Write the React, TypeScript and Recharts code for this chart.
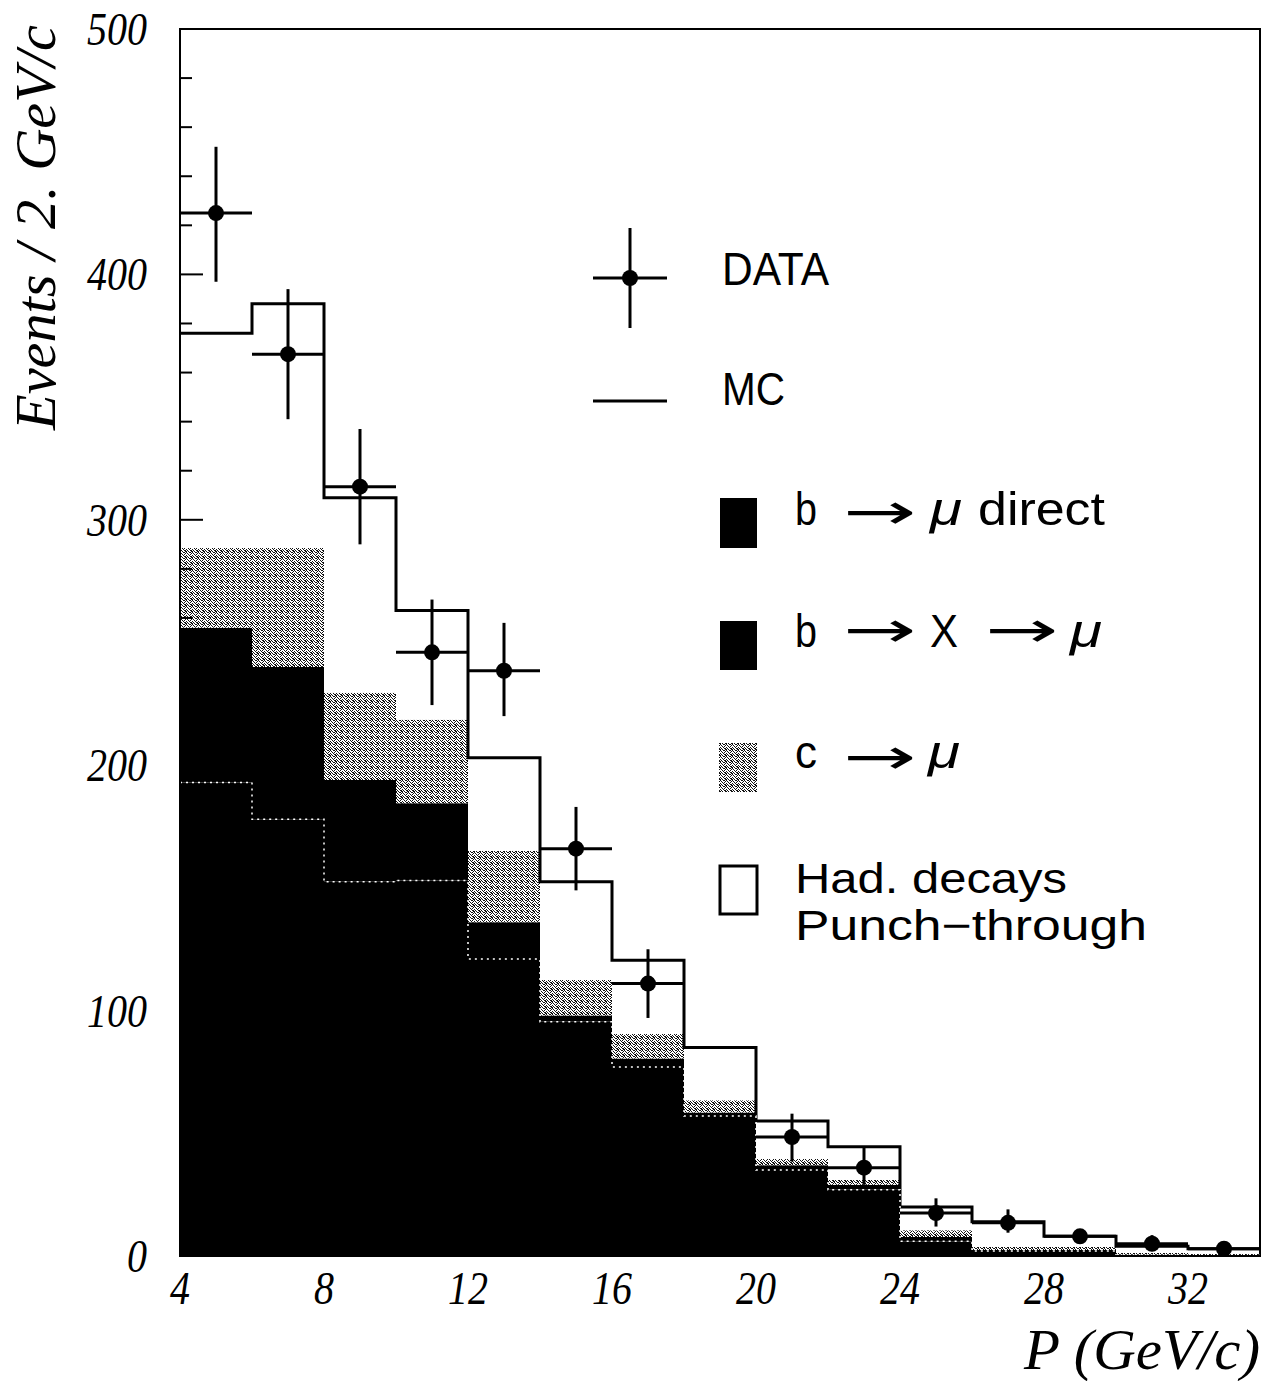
import React from "react"
import {
  ComposedChart,
  Area,
  Line,
  Scatter,
  ErrorBar,
  XAxis,
  YAxis,
  ReferenceArea,
} from "recharts"

// histogram bins (lower edge, GeV/c), 2 GeV wide
const binLow = [4, 6, 8, 10, 12, 14, 16, 18, 20, 22, 24, 26, 28, 30, 32]
const binHigh = 34

// MC components per bin (stacked bottom to top)
const bDirect = [193, 178, 152.5, 153, 121, 95.5, 77, 57, 35, 27, 6, 2, 2, 0.3, 0.2]
const bToXToMu = [63, 62, 41.5, 31.5, 15, 2.5, 3.5, 1.5, 2, 2, 1.7, 0.4, 0.4, 0.2, 0.1]
const cToMu = [32.5, 48.5, 35.5, 34, 29, 14.5, 10, 5, 2.5, 2, 2.8, 1.3, 1.3, 0.7, 0.5]
const hadPunch = [87.5, 99.5, 79.5, 44.5, 38, 40, 30, 21.5, 15.5, 13.5, 9.5, 10.3, 4.3, 2.8, 2.2]

// data points (bin centre, events, error band)
const dataP = [5, 7, 9, 11, 13, 15, 17, 21, 23, 25, 27, 29, 31, 33]
const dataN = [425, 367.5, 313.5, 246, 238.5, 166, 111, 48.5, 36, 17.5, 13.5, 8, 5, 3]
const dataHi = [452, 394, 337, 267.5, 258, 183, 125, 58, 44, 23.5, 19, 11, 8.5, 6]
const dataLo = [397, 341, 290, 224.5, 220, 149, 97, 38.5, 29, 12, 9.5, 5, 2, 0.5]
const halfBin = 1

const xTicks = [4, 8, 12, 16, 20, 24, 28, 32]
const yTicks = [
  0, 20, 40, 60, 80, 100, 120, 140, 160, 180, 200, 220, 240, 260, 280, 300,
  320, 340, 360, 380, 400, 420, 440, 460, 480, 500,
]

const histRows = binLow.map((p, i) => ({
  p,
  bDirect: bDirect[i],
  bX: bToXToMu[i],
  c: cToMu[i],
  had: hadPunch[i],
}))
const last = histRows[histRows.length - 1]
histRows.push({ ...last, p: binHigh })

const pointRows = dataP.map((p, i) => ({
  p,
  n: dataN[i],
  errY: [dataN[i] - dataLo[i], dataHi[i] - dataN[i]],
  errX: halfBin,
}))

// dither cells for the c -> mu grey
const stipple = [
  [0, 0], [3, 0], [4, 0], [1, 1], [5, 1], [2, 2], [4, 2], [0, 3],
  [3, 3], [1, 4], [4, 4], [5, 4], [2, 5], [5, 5], [0, 5],
]

const serif = "'Liberation Serif', 'Times New Roman', serif"
const sans = "'Liberation Sans', Arial, sans-serif"

const YTick = (props: any) => {
  const { x, y, payload } = props
  const v = payload.value
  const major = v % 100 === 0
  return (
    <g>
      <line x1={x} x2={x + (major ? 23 : 12)} y1={y} y2={y} stroke="#000" strokeWidth={2} />
      {major && (
        <text
          x={x - 33}
          y={y + 16}
          textAnchor="end"
          fontFamily={serif}
          fontStyle="italic"
          fontSize={46}
          textLength={String(v).length * 20}
          lengthAdjust="spacingAndGlyphs"
          fill="#000"
        >
          {v}
        </text>
      )}
    </g>
  )
}

const XTick = (props: any) => {
  const { x, y, payload } = props
  const s = String(payload.value)
  return (
    <text
      x={x}
      y={y + 48}
      textAnchor="middle"
      fontFamily={serif}
      fontStyle="italic"
      fontSize={46}
      textLength={s.length * 20}
      lengthAdjust="spacingAndGlyphs"
      fill="#000"
    >
      {s}
    </text>
  )
}

const XTitle = (props: any) => {
  const vb = props.viewBox
  return (
    <text
      x={vb.x + vb.width}
      y={vb.y + 113}
      textAnchor="end"
      fontFamily={serif}
      fontStyle="italic"
      fontSize={58}
      textLength={236}
      lengthAdjust="spacingAndGlyphs"
      fill="#000"
    >
      P (GeV/c)
    </text>
  )
}

const YTitle = (props: any) => {
  const vb = props.viewBox
  const x = vb.x + 55
  const y = vb.y - 4
  return (
    <text
      x={x}
      y={y}
      transform={`rotate(-90, ${x}, ${y})`}
      textAnchor="end"
      fontFamily={serif}
      fontStyle="italic"
      fontSize={58}
      textLength={405}
      lengthAdjust="spacingAndGlyphs"
      fill="#000"
    >
      Events / 2. GeV/c
    </text>
  )
}

const T = (p: {
  x: number
  y: number
  w: number
  size?: number
  italic?: boolean
  children: string
}) => (
  <text
    x={p.x}
    y={p.y}
    fontFamily={sans}
    fontStyle={p.italic ? "italic" : "normal"}
    fontSize={p.size ?? 46}
    textLength={p.w}
    lengthAdjust="spacingAndGlyphs"
    fill="#000"
  >
    {p.children}
  </text>
)

// long arrow: glyph stretched horizontally to the reference width
const Arrow = (p: { x: number; y: number }) => (
  <text
    transform={`translate(${p.x}, ${p.y}) scale(1.75, 1)`}
    fontFamily="'DejaVu Sans', sans-serif"
    fontSize={50}
    fill="#000"
  >
    →
  </text>
)

function LegendLayer() {
  return (
    <svg
      width={1268}
      height={1381}
      style={{ position: "absolute", left: 0, top: 0, pointerEvents: "none" }}
    >
      <defs>
        <pattern id="stipple" width={6} height={6} patternUnits="userSpaceOnUse">
          <rect width={6} height={6} fill="#fff" />
          {stipple.map(([px, py]) => (
            <rect key={`${px}-${py}`} x={px} y={py} width={1} height={1} fill="#111" />
          ))}
        </pattern>
      </defs>
      <line x1={630} x2={630} y1={228} y2={328} stroke="#000" strokeWidth={3} />
      <line x1={593} x2={667} y1={278} y2={278} stroke="#000" strokeWidth={3} />
      <circle cx={630} cy={278} r={8} fill="#000" />
      <T x={722} y={285} w={107}>DATA</T>

      <line x1={593} x2={667} y1={401} y2={401} stroke="#000" strokeWidth={3} />
      <T x={722} y={405} w={63}>MC</T>

      <rect x={720} y={498} width={37} height={50} fill="#000" />
      <T x={795} y={525} w={22}>b</T>
      <Arrow x={843} y={529} />
      <T x={930} y={525} w={32} italic>μ</T>
      <T x={978} y={525} w={127}>direct</T>

      <rect x={720} y={621} width={37} height={49} fill="#000" />
      <T x={795} y={647} w={22}>b</T>
      <Arrow x={843} y={647} />
      <T x={930} y={647} w={28}>X</T>
      <Arrow x={985} y={647} />
      <T x={1070} y={647} w={32} italic>μ</T>

      <rect x={719} y={743} width={38} height={49} fill="url(#stipple)" />
      <T x={795} y={768} w={22}>c</T>
      <Arrow x={843} y={774} />
      <T x={928} y={768} w={32} italic>μ</T>

      <rect x={720} y={866} width={37} height={48} fill="none" stroke="#000" strokeWidth={3} />
      <T x={795} y={893} w={272} size={42}>Had. decays</T>
      <T x={795} y={940} w={352} size={42}>Punch−through</T>
    </svg>
  )
}

export default function App() {
  return (
    <div
      style={{
        position: "absolute",
        left: 0,
        top: 0,
        width: 1268,
        height: 1381,
        background: "#fff",
      }}
    >
      <ComposedChart
        width={1268}
        height={1381}
        data={histRows}
        margin={{ top: 29, right: 8, bottom: 0, left: 0 }}
      >
        <XAxis
          dataKey="p"
          type="number"
          domain={[4, 34]}
          ticks={xTicks}
          interval={0}
          height={125}
          tickSize={0}
          tickMargin={0}
          tickLine={false}
          axisLine={{ stroke: "#000", strokeWidth: 2 }}
          tick={<XTick />}
          label={<XTitle />}
        />
        <YAxis
          type="number"
          domain={[0, 500]}
          ticks={yTicks}
          interval={0}
          width={180}
          tickSize={0}
          tickMargin={0}
          tickLine={false}
          axisLine={{ stroke: "#000", strokeWidth: 2 }}
          tick={<YTick />}
          label={<YTitle />}
        />
        <Area
          type="stepAfter"
          dataKey="bDirect"
          stackId="mc"
          fill="#000"
          fillOpacity={1}
          stroke="none"
          isAnimationActive={false}
        />
        <Area
          type="stepAfter"
          dataKey="bX"
          stackId="mc"
          fill="#000"
          fillOpacity={1}
          stroke="none"
          isAnimationActive={false}
        />
        <Area
          type="stepAfter"
          dataKey="c"
          stackId="mc"
          fill="url(#stipple)"
          fillOpacity={1}
          stroke="none"
          isAnimationActive={false}
        />
        <Area
          type="stepAfter"
          dataKey="had"
          stackId="mc"
          fill="#fff"
          fillOpacity={1}
          stroke="#000"
          strokeWidth={3}
          isAnimationActive={false}
        />
        <Line
          type="stepAfter"
          dataKey="bDirect"
          stroke="#fff"
          strokeWidth={1.5}
          strokeDasharray="2 4"
          dot={false}
          isAnimationActive={false}
        />
        <Scatter
          data={pointRows}
          dataKey="n"
          isAnimationActive={false}
          shape={(s: any) => <circle cx={s.cx} cy={s.cy} r={8} fill="#000" />}
        >
          <ErrorBar dataKey="errY" direction="y" width={0} stroke="#000" strokeWidth={3} />
          <ErrorBar dataKey="errX" direction="x" width={0} stroke="#000" strokeWidth={3} />
        </Scatter>
        <ReferenceArea
          x1={4}
          x2={34}
          y1={0}
          y2={500}
          fill="none"
          stroke="#000"
          strokeWidth={2}
        />
      </ComposedChart>
      <LegendLayer />
    </div>
  )
}
